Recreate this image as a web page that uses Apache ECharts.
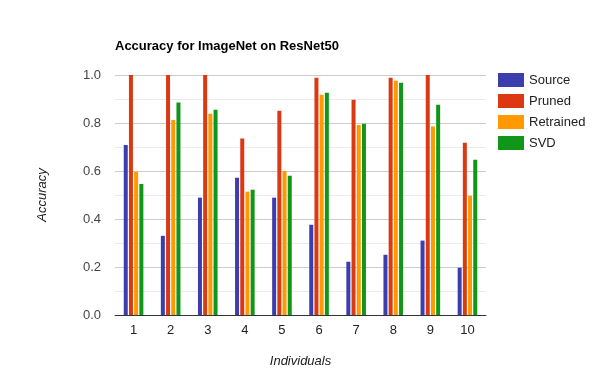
<!DOCTYPE html>
<html>
<head>
    <meta charset="utf-8">
    <title>Accuracy for ImageNet on ResNet50</title>
    <script src="https://cdn.jsdelivr.net/npm/echarts@6/dist/echarts.min.js"></script>
</head>
<body style="margin:0">
<div id="main" style="width: 600px;height:390px;"></div>
<script type="text/javascript">
    var individuals = ['1', '2', '3', '4', '5', '6', '7', '8', '9', '10'];
    var source    = [0.708, 0.330, 0.489, 0.572, 0.489, 0.376, 0.222, 0.251, 0.310, 0.197];
    var pruned    = [1.0, 1.0, 1.0, 0.735, 0.851, 0.989, 0.897, 0.989, 1.0, 0.718];
    var retrained = [0.597, 0.813, 0.839, 0.514, 0.600, 0.918, 0.792, 0.976, 0.785, 0.497];
    var svd       = [0.546, 0.885, 0.855, 0.522, 0.580, 0.926, 0.797, 0.968, 0.876, 0.647];

    var myChart = echarts.init(document.getElementById('main'));

    function bar(name, data, color) {
        return {
            name: name,
            type: 'bar',
            data: data,
            barWidth: 4,
            barGap: '30%',
            itemStyle: { color: color },
            animation: false
        };
    }

    var option = {
        animation: false,
        textStyle: { fontFamily: 'Arial, Liberation Sans, sans-serif' },
        title: {
            text: 'Accuracy for ImageNet on ResNet50',
            left: 110,
            top: 35,
            textStyle: { fontSize: 13, fontWeight: 'bold', color: '#000' }
        },
        legend: {
            orient: 'vertical',
            left: 493,
            top: 68,
            itemWidth: 26,
            itemHeight: 14,
            itemGap: 7,
            icon: 'rect',
            textStyle: { fontSize: 13, color: '#222' },
            data: ['Source', 'Pruned', 'Retrained', 'SVD']
        },
        grid: { left: 115, right: 114, top: 75, bottom: 75 },
        xAxis: {
            type: 'category',
            data: individuals,
            name: 'Individuals',
            nameLocation: 'middle',
            nameGap: 40,
            nameTextStyle: { fontStyle: 'italic', fontSize: 13, color: '#222' },
            axisLine: { lineStyle: { color: '#333' } },
            axisTick: { show: false },
            axisLabel: { fontSize: 13, color: '#222', margin: 9 }
        },
        yAxis: {
            type: 'value',
            min: 0,
            max: 1,
            interval: 0.2,
            name: 'Accuracy',
            nameLocation: 'middle',
            nameGap: 66,
            nameTextStyle: { fontStyle: 'italic', fontSize: 13, color: '#222' },
            axisLine: { show: false },
            axisTick: { show: false },
            axisLabel: {
                fontSize: 13, color: '#444', margin: 14,
                formatter: function (v) { return v.toFixed(1); }
            },
            splitLine: { lineStyle: { color: '#cccccc' } },
            minorTick: { show: false, splitNumber: 2 },
            minorSplitLine: { show: true, lineStyle: { color: '#ebebeb' } }
        },
        series: [
            bar('Source', source, '#3b3eac'),
            bar('Pruned', pruned, '#dc3912'),
            bar('Retrained', retrained, '#ff9900'),
            bar('SVD', svd, '#109618')
        ]
    };

    myChart.setOption(option);
</script>
</body>
</html>
